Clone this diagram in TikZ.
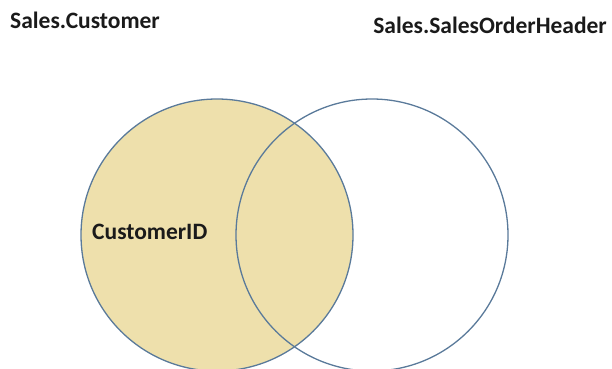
\documentclass[tikz,border=0pt]{standalone}
\usepackage{fontspec}
\setmainfont{Carlito}
\usepackage{tikz}

\definecolor{setfill}{HTML}{EEE0AC}
\definecolor{setline}{HTML}{5A7A9A}
\definecolor{textdark}{HTML}{1A1A1A}

\tikzset{
  setcircle/.style={circle, draw=setline, line width=1.3pt, minimum size=272pt, inner sep=0pt},
  tablelabel/.style={font=\fontsize{23.5}{28}\selectfont\bfseries, text=textdark, inner sep=0pt}
}

\begin{document}
\begin{tikzpicture}[x=1pt,y=-1pt]

\useasboundingbox (0,0) rectangle (612,368);

% the two tables
\node[setcircle, fill=setfill] (customer) at (217,235) {};
\node[setcircle] (orderheader) at (372,235) {};

% labels
\node[tablelabel, anchor=base west] (custname) at (10,28) {Sales.Customer};
\node[tablelabel, anchor=base east] (ordername) at (607,33) {Sales.SalesOrderHeader};
\node[tablelabel, anchor=base west] (custid) at (92,239) {CustomerID};

\end{tikzpicture}
\end{document}
